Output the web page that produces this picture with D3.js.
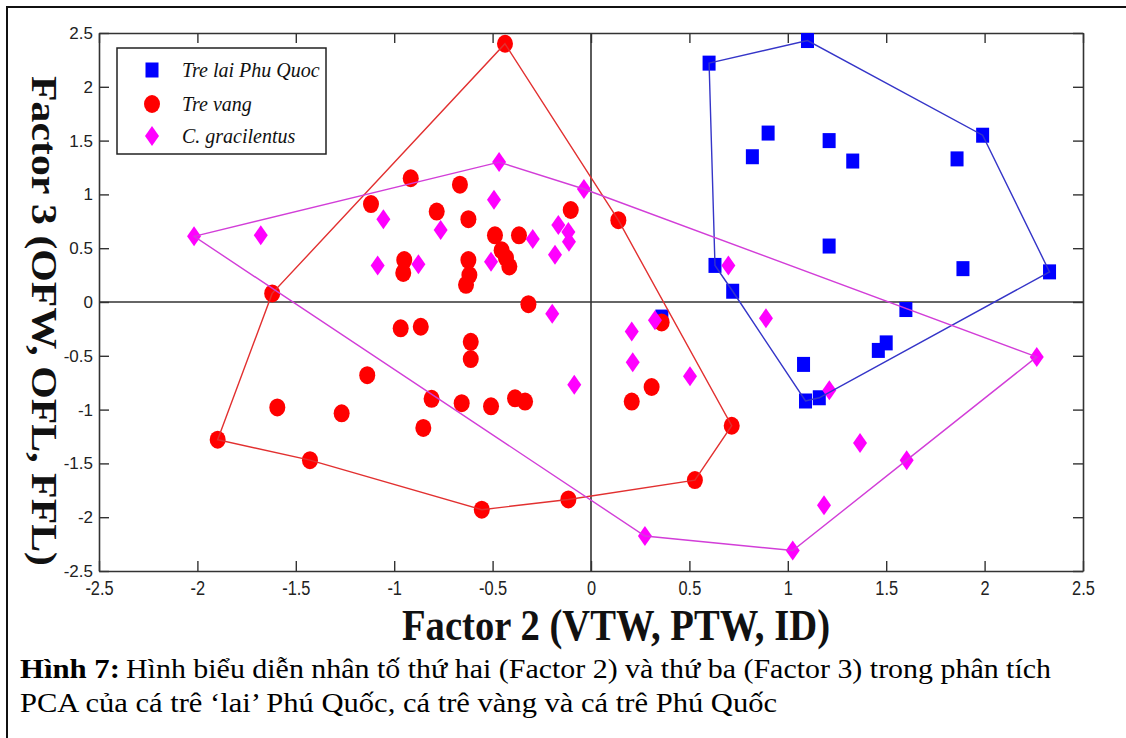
<!DOCTYPE html>
<html>
<head>
<meta charset="utf-8">
<script src="https://cdn.jsdelivr.net/npm/d3@7"></script>
<style>
  html, body { margin: 0; padding: 0; background: #ffffff; }
  svg { display: block; }
</style>
</head>
<body>
<svg id="chart" width="1126" height="738"></svg>
<script>
// ---------------- DATA ----------------
const seriesNames = ["Tre lai Phu Quoc", "Tre vang", "C. gracilentus"];

// Tre lai Phu Quoc (blue squares): [Factor 2, Factor 3]
const treLaiPoints = [
  [0.60, 2.22], [1.10, 2.43], [0.90, 1.57], [0.82, 1.35], [1.21, 1.50],
  [1.33, 1.31], [1.86, 1.33], [1.99, 1.55], [1.21, 0.52], [1.89, 0.31],
  [2.33, 0.28], [0.72, 0.10], [0.63, 0.34], [1.60, -0.07], [0.36, -0.14],
  [1.50, -0.38], [1.46, -0.45], [1.08, -0.58], [1.09, -0.92], [1.16, -0.89]
];
const treLaiHull = [0, 1, 7, 10, 19, 18, 11, 12];

// Tre vang (red circles)
const treVangPoints = [
  [-0.437, 2.40], [-0.916, 1.15], [-1.118, 0.91], [-0.949, 0.39], [-0.954, 0.27],
  [-1.62, 0.08], [-0.666, 1.09], [-0.784, 0.84], [-0.623, 0.77], [-0.103, 0.855],
  [0.139, 0.76], [-0.488, 0.62], [-0.366, 0.62], [-0.454, 0.48], [-0.432, 0.41],
  [-0.415, 0.33], [-0.623, 0.39], [-0.618, 0.25], [-0.635, 0.16], [-0.318, -0.02],
  [-0.967, -0.245], [-0.865, -0.23], [-1.137, -0.68], [-1.594, -0.98], [-1.267, -1.035],
  [-1.897, -1.28], [-0.81, -0.90], [-0.852, -1.17], [-0.611, -0.37], [-0.611, -0.53],
  [-0.657, -0.94], [-0.508, -0.97], [-0.386, -0.895], [-0.335, -0.925], [0.308, -0.79],
  [0.207, -0.925], [0.359, -0.19], [0.715, -1.15], [0.528, -1.655], [-0.115, -1.835],
  [-0.555, -1.93], [-1.428, -1.47]
];
const treVangHull = [0, 10, 37, 38, 39, 40, 41, 25, 5];

// C. gracilentus (magenta diamonds)
const gracilentusPoints = [
  [-2.017, 0.61], [-1.678, 0.62], [-1.055, 0.77], [-1.084, 0.34], [-0.877, 0.35],
  [-0.467, 1.30], [-0.036, 1.05], [-0.493, 0.95], [-0.764, 0.67], [-0.296, 0.585],
  [-0.166, 0.716], [-0.115, 0.65], [-0.112, 0.56], [-0.183, 0.44], [-0.508, 0.375],
  [-0.197, -0.11], [-0.085, -0.77], [0.207, -0.275], [0.325, -0.17], [0.212, -0.56],
  [0.503, -0.69], [0.274, -2.175], [0.889, -0.15], [1.211, -0.82], [1.367, -1.31],
  [1.604, -1.47], [1.184, -1.89], [1.025, -2.31], [2.265, -0.51], [0.698, 0.34]
];
const gracilentusHull = [0, 5, 6, 28, 25, 27, 21];

const tickValues = [-2.5, -2, -1.5, -1, -0.5, 0, 0.5, 1, 1.5, 2, 2.5];
const xTitle = "Factor 2 (VTW, PTW, ID)";
const yTitle = "Factor 3 (OFW, OFL, FFL)";
const captionBold = "Hình 7:";
const captionLine1 = "Hình biểu diễn nhân tố thứ hai (Factor 2) và thứ ba (Factor 3) trong phân tích";
const captionLine2 = "PCA của cá trê ‘lai’ Phú Quốc, cá trê vàng và cá trê Phú Quốc";

// ---------------- CHART ----------------
const svg = d3.select("#chart");
const L = 99, R = 1083, T = 33, B = 571;
const x = d3.scaleLinear().domain([-2.5, 2.5]).range([L, R]);
const y = d3.scaleLinear().domain([-2.5, 2.5]).range([B, T]);
const axisColor = "#333333";
const fmt = d => String(d);
const serif = "'Liberation Serif', 'Times New Roman', serif";
const sans = "'Liberation Sans', Arial, sans-serif";

// outer frame (left + top visible)
svg.append("line").attr("x1", 7).attr("x2", 7).attr("y1", 7).attr("y2", 738)
  .attr("stroke", "#111").attr("stroke-width", 2);
svg.append("line").attr("x1", 6).attr("x2", 1126).attr("y1", 7).attr("y2", 7)
  .attr("stroke", "#111").attr("stroke-width", 2);

// plot background
svg.append("rect").attr("x", L).attr("y", T).attr("width", R - L).attr("height", B - T)
  .attr("fill", "#ffffff");

// axes
const gx = svg.append("g").attr("transform", `translate(0,${B})`)
  .call(d3.axisBottom(x).tickValues(tickValues).tickFormat(fmt).tickSizeInner(-10).tickSizeOuter(0).tickPadding(9));
const gxt = svg.append("g").attr("transform", `translate(0,${T})`)
  .call(d3.axisTop(x).tickValues(tickValues).tickFormat("").tickSizeInner(-10).tickSizeOuter(0));
const gy = svg.append("g").attr("transform", `translate(${L},0)`)
  .call(d3.axisLeft(y).tickValues(tickValues).tickFormat(fmt).tickSizeInner(-10).tickSizeOuter(0).tickPadding(6));
const gyr = svg.append("g").attr("transform", `translate(${R},0)`)
  .call(d3.axisRight(y).tickValues(tickValues).tickFormat("").tickSizeInner(-10).tickSizeOuter(0));

[gx, gxt, gy, gyr].forEach(g => {
  g.select(".domain").attr("stroke", axisColor).attr("stroke-width", 1.6);
  g.selectAll(".tick line").attr("stroke", axisColor).attr("stroke-width", 1.4);
});
gx.selectAll(".tick text")
  .attr("fill", "#222").attr("font-family", sans)
  .attr("font-size", 21).attr("transform", "scale(0.78,1)");
gy.selectAll(".tick text")
  .attr("fill", "#222").attr("font-family", sans)
  .attr("font-size", 17);

// zero lines
svg.append("line").attr("x1", x(0)).attr("x2", x(0)).attr("y1", T).attr("y2", B)
  .attr("stroke", axisColor).attr("stroke-width", 1.6);
svg.append("line").attr("x1", L).attr("x2", R).attr("y1", y(0)).attr("y2", y(0))
  .attr("stroke", axisColor).attr("stroke-width", 1.6);

// markers
svg.append("g").selectAll("rect").data(treLaiPoints).join("rect")
  .attr("x", d => x(d[0]) - 6.5).attr("y", d => y(d[1]) - 7.5)
  .attr("width", 13).attr("height", 15).attr("fill", "#0000ff");

svg.append("g").selectAll("ellipse").data(treVangPoints).join("ellipse")
  .attr("cx", d => x(d[0])).attr("cy", d => y(d[1]))
  .attr("rx", 8).attr("ry", 9).attr("fill", "#ff0000");

const diamondPath = (cx, cy) => `M${cx},${cy - 10}L${cx + 7},${cy}L${cx},${cy + 10}L${cx - 7},${cy}Z`;
svg.append("g").selectAll("path").data(gracilentusPoints).join("path")
  .attr("d", d => diamondPath(x(d[0]), y(d[1]))).attr("fill", "#ff00ff");

// hull outlines
const line = d3.line().x(d => x(d[0])).y(d => y(d[1])).curve(d3.curveLinearClosed);
const hulls = [
  { pts: treLaiHull.map(i => treLaiPoints[i]), color: "#3535c8" },
  { pts: treVangHull.map(i => treVangPoints[i]), color: "#e23030" },
  { pts: gracilentusHull.map(i => gracilentusPoints[i]), color: "#d23ed8" }
];
svg.append("g").selectAll("path").data(hulls).join("path")
  .attr("d", d => line(d.pts)).attr("fill", "none")
  .attr("stroke", d => d.color).attr("stroke-width", 1.4);

// legend
const lg = svg.append("g");
lg.append("rect").attr("x", 117).attr("y", 48).attr("width", 209).attr("height", 106)
  .attr("fill", "#ffffff").attr("stroke", "#222").attr("stroke-width", 1.5);
const legendRowsY = [70, 104, 136];
const mk = 152;
lg.append("rect").attr("x", mk - 6.5).attr("y", legendRowsY[0] - 7.5).attr("width", 13).attr("height", 15).attr("fill", "#0000ff");
lg.append("ellipse").attr("cx", mk).attr("cy", legendRowsY[1]).attr("rx", 8).attr("ry", 9).attr("fill", "#ff0000");
lg.append("path").attr("d", diamondPath(mk, legendRowsY[2])).attr("fill", "#ff00ff");
lg.selectAll("text.leg").data(seriesNames).join("text").attr("class", "leg")
  .attr("x", 182).attr("y", (d, i) => legendRowsY[i] + 7)
  .attr("font-family", serif)
  .attr("font-style", "italic").attr("font-size", 20).attr("fill", "#111")
  .text(d => d);

// axis titles
svg.append("text").attr("x", 402).attr("y", 640)
  .attr("font-family", serif)
  .attr("font-weight", "bold").attr("font-size", 44).attr("fill", "#111")
  .attr("textLength", 428).attr("lengthAdjust", "spacingAndGlyphs")
  .text(xTitle);
svg.append("text").attr("transform", "translate(32,76) rotate(90)")
  .attr("x", 0).attr("y", 0)
  .attr("font-family", serif)
  .attr("font-weight", "bold").attr("font-size", 35).attr("fill", "#111")
  .attr("textLength", 490).attr("lengthAdjust", "spacingAndGlyphs")
  .text(yTitle);

// caption
svg.append("text").attr("x", 20).attr("y", 678).attr("font-family", serif)
  .attr("font-weight", "bold").attr("font-size", 27).attr("fill", "#000")
  .attr("textLength", 100).attr("lengthAdjust", "spacingAndGlyphs").text(captionBold);
svg.append("text").attr("x", 126).attr("y", 678).attr("font-family", serif)
  .attr("font-size", 27).attr("fill", "#000")
  .attr("textLength", 925).attr("lengthAdjust", "spacingAndGlyphs").text(captionLine1);
svg.append("text").attr("x", 20).attr("y", 712).attr("font-family", serif)
  .attr("font-size", 27).attr("fill", "#000")
  .attr("textLength", 757).attr("lengthAdjust", "spacingAndGlyphs").text(captionLine2);
</script>
</body>
</html>
